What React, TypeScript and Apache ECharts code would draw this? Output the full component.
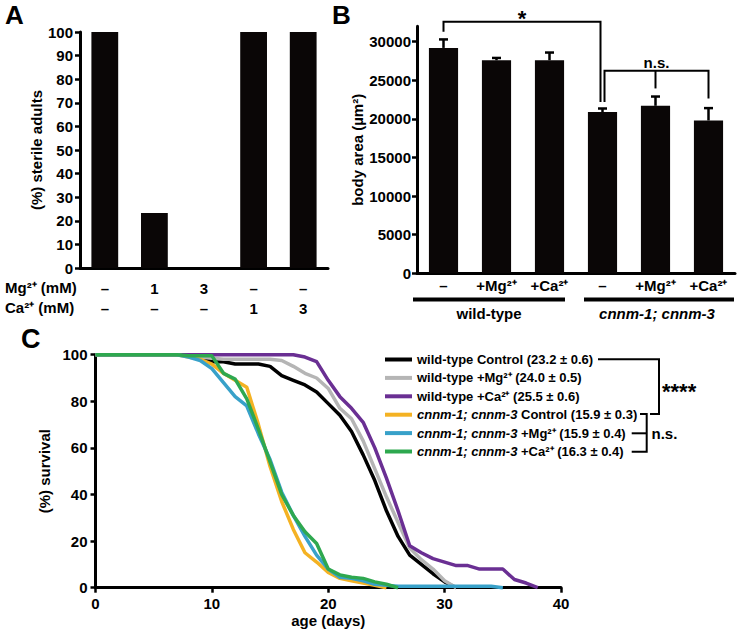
import React, { useEffect, useRef } from 'react';
import * as echarts from 'echarts';

const FONT = '"Liberation Sans", Arial, Helvetica, sans-serif';

// ---------- Panel A data ----------
const sterileMg = ['–', '1', '3', '–', '–'];
const sterileCa = ['–', '–', '–', '1', '3'];
const sterilePct = [100, 23.3, 0, 100, 100];
const sterileTicks = [0, 10, 20, 30, 40, 50, 60, 70, 80, 90, 100];

// ---------- Panel B data ----------
const bodyLabels = ['–', '+Mg²⁺', '+Ca²⁺', '–', '+Mg²⁺', '+Ca²⁺'];
const bodyArea = [29200, 27600, 27600, 20900, 21700, 19800];
const bodyErr = [1100, 300, 1000, 450, 1200, 1600];
const bodyTicks = [0, 5000, 10000, 15000, 20000, 25000, 30000];

// ---------- Panel C data (survival % by day, starting day 0) ----------
const survivalNames = [
  'wild-type Control (23.2 ± 0.6)',
  'wild-type +Mg²⁺ (24.0 ± 0.5)',
  'wild-type +Ca²⁺ (25.5 ± 0.6)',
  'cnnm-1; cnnm-3 Control (15.9 ± 0.3)',
  'cnnm-1; cnnm-3 +Mg²⁺ (15.9 ± 0.4)',
  'cnnm-1; cnnm-3 +Ca²⁺ (16.3 ± 0.4)',
];
const wtControl = [100, 100, 100, 100, 100, 100, 100, 100, 100, 99, 97, 97, 96, 96, 96, 95, 91, 89, 87, 84, 79, 74, 67, 57, 46, 33, 22, 14, 10, 6, 2.5, 0];
const wtMg = [100, 100, 100, 100, 100, 100, 100, 100, 100, 99, 98.5, 98, 98, 98, 98, 98, 97.5, 95, 92, 90, 85.5, 77, 72.5, 63, 51, 39, 28, 17, 12, 8, 3, 0];
const wtCa = [100, 100, 100, 100, 100, 100, 100, 100, 100, 100, 100, 100, 100, 100, 100, 100, 100, 100, 99, 97, 89, 82, 77, 71, 60, 47, 33, 18, 15, 12.5, 11, 9.5, 9.5, 8, 8, 8, 3.5, 2, 0];
const mutControl = [100, 100, 100, 100, 100, 100, 100, 100, 99, 98, 96, 92, 89, 86, 70, 52, 37, 25, 15, 11, 6.5, 4, 3, 2, 1, 0];
const mutMg = [100, 100, 100, 100, 100, 100, 100, 100, 99, 97.5, 94, 88, 82, 78, 66, 55, 41, 31, 22, 14, 8, 4.5, 4, 3, 1.5, 1, 0.6, 0.6, 0.6, 0.6, 0.6, 0.6, 0.6, 0.6, 0.6, 0];
const mutCa = [100, 100, 100, 100, 100, 100, 100, 100, 99.5, 99.5, 99.5, 92, 89.5, 81, 68, 54, 40, 31, 24, 19, 8, 5.5, 4.5, 4, 2.5, 1.5, 0];
const survivalData = [wtControl, wtMg, wtCa, mutControl, mutMg, mutCa];
const survivalColors = ['#000000', '#b5b5b5', '#6a2f93', '#f4b223', '#38a1c9', '#2ea84f'];

// significance brackets in panel B (category index / value units)
const bracketDefs = [
  { from: 0, to: 3, top: 32600, leftEnd: 31300, rightEnd: 22200, mid: null as null | number, label: '*', dxL: 0, dxR: -2, size: 22, dy: -3 },
  { from: 3, to: 5, top: 26250, leftEnd: 22200, rightEnd: 22650, mid: 23950, label: 'n.s.', dxL: 2, dxR: 0, size: 15, dy: -8 },
];

const boldText = { fontFamily: FONT, fontWeight: 'bold' as const, color: '#000' };

export default function App() {
  const ref = useRef<HTMLDivElement>(null);
  useEffect(() => {
    document.body.style.margin = '0';
    if (!ref.current) return;
    const chart = echarts.init(ref.current, undefined, { renderer: 'svg' });
    const axisLine = { show: true, onZero: false, lineStyle: { color: '#000', width: 3 } };
    const tick = { show: true, length: 5, lineStyle: { color: '#000', width: 2.5 } };
    const plain = (v: number) => String(v);

    const option: any = {
      animation: false,
      textStyle: { fontFamily: FONT },
      grid: [
        { left: 80, top: 32, width: 248, height: 236 },
        { left: 417, top: 26.3, width: 318, height: 247 },
        { left: 95.5, top: 354.7, width: 465.5, height: 233 },
      ],
      xAxis: [
        {
          gridIndex: 0, type: 'category', data: sterileMg.map((_, i) => String(i)),
          axisLine, axisTick: { show: false },
          axisLabel: { ...boldText, fontSize: 15, lineHeight: 20, margin: 10, interval: 0,
            formatter: (_v: string, i: number) => `${sterileMg[i]}\n${sterileCa[i]}` },
        },
        {
          gridIndex: 1, type: 'category', data: bodyLabels.map((_, i) => String(i)),
          axisLine, axisTick: { show: false },
          axisLabel: { ...boldText, fontSize: 15, margin: 5, interval: 0,
            formatter: (_v: string, i: number) => bodyLabels[i] },
        },
        {
          gridIndex: 2, type: 'value', min: 0, max: 40, interval: 10,
          axisLine, axisTick: tick, splitLine: { show: false },
          axisLabel: { ...boldText, fontSize: 15, margin: 8, formatter: plain },
          name: 'age (days)', nameLocation: 'middle', nameGap: 25,
          nameTextStyle: { ...boldText, fontSize: 15 },
        },
      ],
      yAxis: [
        {
          gridIndex: 0, type: 'value', min: 0, max: 100, interval: 10,
          axisLine, axisTick: { ...tick, customValues: sterileTicks }, splitLine: { show: false },
          axisLabel: { ...boldText, fontSize: 15, margin: 7, customValues: sterileTicks, formatter: plain },
          name: '(%) sterile adults', nameLocation: 'middle', nameGap: 30,
          nameTextStyle: { ...boldText, fontSize: 15 },
        },
        {
          gridIndex: 1, type: 'value', min: 0, max: 32000, interval: 5000,
          axisLine, axisTick: { ...tick, customValues: bodyTicks }, splitLine: { show: false },
          axisLabel: { ...boldText, fontSize: 15, margin: 6, customValues: bodyTicks, formatter: plain },
          name: 'body area (µm²)', nameLocation: 'middle', nameGap: 50,
          nameTextStyle: { ...boldText, fontSize: 15 },
        },
        {
          gridIndex: 2, type: 'value', min: 0, max: 100, interval: 20,
          axisLine, axisTick: tick, splitLine: { show: false },
          axisLabel: { ...boldText, fontSize: 15, margin: 8, formatter: plain },
          name: '(%) survival', nameLocation: 'middle', nameGap: 35,
          nameTextStyle: { ...boldText, fontSize: 15 },
        },
      ],
      legend: {
        data: survivalNames, orient: 'vertical', left: 380, top: 345.3,
        itemWidth: 27, itemHeight: 4, itemGap: 0, icon: 'rect', selectedMode: false,
        textStyle: { ...boldText, fontSize: 13, lineHeight: 18.4,
          rich: { i: { ...boldText, fontStyle: 'italic', fontSize: 13, lineHeight: 18.4 },
                  n: { ...boldText, fontSize: 13, lineHeight: 18.4 } } },
        formatter: (name: string) => name.startsWith('cnnm')
          ? `{i|cnnm-1; cnnm-3}{n|${name.slice(14)}}` : name,
      },
      series: [
        {
          type: 'bar', xAxisIndex: 0, yAxisIndex: 0, data: sterilePct, barWidth: '54%',
          itemStyle: { color: '#0a0606' },
        },
        {
          type: 'bar', xAxisIndex: 1, yAxisIndex: 1, data: bodyArea, barWidth: '55%',
          itemStyle: { color: '#0a0606' },
        },
        {
          type: 'custom', xAxisIndex: 1, yAxisIndex: 1, z: 3,
          data: bodyArea.map((v, i) => [i, v, v + bodyErr[i]]),
          encode: { x: 0, y: [1, 2] },
          renderItem: (_p: any, api: any) => {
            const i = api.value(0);
            const p0 = api.coord([i, api.value(1)]);
            const p1 = api.coord([i, api.value(2)]);
            return {
              type: 'group',
              children: [
                { type: 'line', shape: { x1: p0[0], y1: p0[1], x2: p1[0], y2: p1[1] }, style: { stroke: '#000', lineWidth: 2.5 } },
                { type: 'line', shape: { x1: p1[0] - 4.5, y1: p1[1], x2: p1[0] + 4.5, y2: p1[1] }, style: { stroke: '#000', lineWidth: 2.5 } },
              ],
            };
          },
        },
        {
          type: 'custom', xAxisIndex: 1, yAxisIndex: 1, z: 3, clip: false,
          data: bracketDefs.map((b) => [b.from, b.top]),
          renderItem: (p: any, api: any) => {
            const b = bracketDefs[p.dataIndex];
            const pl = api.coord([b.from, b.top]);
            const pr = api.coord([b.to, b.top]);
            const xl = pl[0] + b.dxL;
            const xr = pr[0] + b.dxR;
            const y = pl[1];
            const yl = api.coord([b.from, b.leftEnd])[1];
            const yr = api.coord([b.to, b.rightEnd])[1];
            const children: any[] = [
              { type: 'polyline', shape: { points: [[xl, yl], [xl, y], [xr, y], [xr, yr]] }, style: { stroke: '#000', lineWidth: 2, fill: null } },
              { type: 'text', x: (xl + xr) / 2, y: y + b.dy,
                style: { text: b.label, fontSize: b.size, fontWeight: 'bold', fontFamily: FONT, fill: '#000', align: 'center', verticalAlign: 'middle' } },
            ];
            if (b.mid !== null) {
              const xm = api.coord([(b.from + b.to) / 2, b.top])[0];
              const ym = api.coord([b.from, b.mid])[1];
              children.push({ type: 'line', shape: { x1: xm, y1: y, x2: xm, y2: ym }, style: { stroke: '#000', lineWidth: 2 } });
            }
            return { type: 'group', children };
          },
        },
        ...survivalData.map((arr, k) => ({
          type: 'line', name: survivalNames[k], xAxisIndex: 2, yAxisIndex: 2,
          data: arr.map((v, d) => [d, v]), showSymbol: false, clip: false,
          color: survivalColors[k],
          lineStyle: { color: survivalColors[k], width: 3.5, join: 'round' },
        })),
      ],
      graphic: [
        { type: 'text', left: 5, top: 2, style: { text: 'A', font: `bold 26px ${FONT}`, fill: '#000' } },
        { type: 'text', left: 332, top: 2, style: { text: 'B', font: `bold 26px ${FONT}`, fill: '#000' } },
        { type: 'text', left: 21, top: 325, style: { text: 'C', font: `bold 27px ${FONT}`, fill: '#000' } },
        { type: 'text', left: 5, top: 280, style: { text: 'Mg²⁺ (mM)', font: `bold 15px ${FONT}`, fill: '#000' } },
        { type: 'text', left: 5, top: 300, style: { text: 'Ca²⁺ (mM)', font: `bold 15px ${FONT}`, fill: '#000' } },
        { type: 'rect', shape: { x: 413, y: 297.5, width: 152, height: 4 }, style: { fill: '#000' } },
        { type: 'rect', shape: { x: 584, y: 297.5, width: 150, height: 4 }, style: { fill: '#000' } },
        { type: 'text', x: 489, y: 313, style: { text: 'wild-type', font: `bold 15px ${FONT}`, fill: '#000', textAlign: 'center', textVerticalAlign: 'middle' } },
        { type: 'text', x: 657, y: 313, style: { text: 'cnnm-1; cnnm-3', font: `italic bold 15px ${FONT}`, fill: '#000', textAlign: 'center', textVerticalAlign: 'middle' } },
        { type: 'polyline', shape: { points: [[598, 359.3], [659, 359.3], [659, 414], [650, 414]] }, style: { stroke: '#000', lineWidth: 2, fill: null } },
        { type: 'text', x: 662, y: 391, style: { text: '****', font: `bold 22px ${FONT}`, fill: '#000', textAlign: 'left', textVerticalAlign: 'middle' } },
        { type: 'polyline', shape: { points: [[640, 414], [646.7, 414], [646.7, 451.7], [631.7, 451.7]] }, style: { stroke: '#000', lineWidth: 2, fill: null } },
        { type: 'line', shape: { x1: 631.7, y1: 433.3, x2: 646.7, y2: 433.3 }, style: { stroke: '#000', lineWidth: 2 } },
        { type: 'text', x: 651.5, y: 433, style: { text: 'n.s.', font: `bold 15px ${FONT}`, fill: '#000', textAlign: 'left', textVerticalAlign: 'middle' } },
      ],
    };
    chart.setOption(option);
    return () => chart.dispose();
  }, []);
  return <div ref={ref} style={{ width: 737, height: 629 }} />;
}
